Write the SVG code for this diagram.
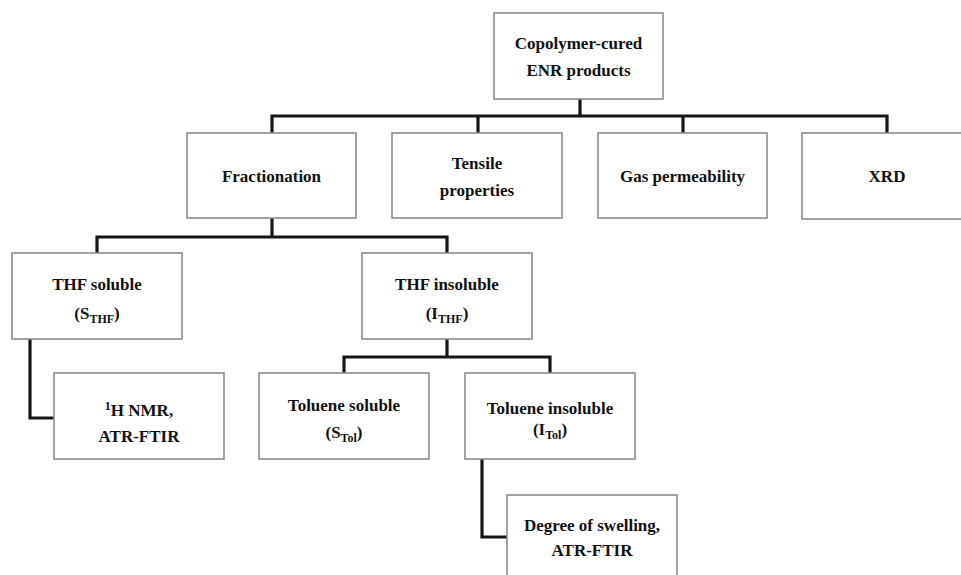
<svg xmlns="http://www.w3.org/2000/svg" width="961" height="575" viewBox="0 0 961 575">
<style>
.box{fill:#fff;stroke:#8c8c8c;stroke-width:1.6}
.t{font-family:"Liberation Serif","Times New Roman",serif;font-weight:bold;font-size:17px;fill:#111;text-anchor:middle}
.sub{font-size:12px}
.c{fill:none;stroke:#161616;stroke-width:3.2;stroke-linejoin:miter;stroke-linecap:square}
</style>
<rect width="961" height="575" fill="#fff"/>
<g id="connectors">
<path class="c" d="M580,99V116M272,116H887M272,116V133M478,116V133M683,116V133M887,116V133"/>
<path class="c" d="M272,218V237M97,237H447M97,237V253M447,237V253"/>
<path class="c" d="M447,339V357M344,357H550M344,357V373M550,357V373"/>
<path class="c" d="M30,339V418H54"/>
<path class="c" d="M482,459V537H507"/>
</g>
<g id="root"><rect class="box" x="494" y="13" width="169" height="86"/>
<text class="t" x="578.5" y="49">Copolymer-cured</text><text class="t" x="578.5" y="76">ENR products</text></g>
<g id="fractionation"><rect class="box" x="187" y="133" width="169" height="85"/>
<text class="t" x="271.5" y="182">Fractionation</text></g>
<g id="tensile"><rect class="box" x="392" y="133" width="170" height="85"/>
<text class="t" x="477" y="169">Tensile</text><text class="t" x="477" y="196">properties</text></g>
<g id="gas"><rect class="box" x="598" y="133" width="169" height="85"/>
<text class="t" x="682.5" y="182">Gas permeability</text></g>
<g id="xrd"><rect class="box" x="802" y="133" width="170" height="86"/>
<text class="t" x="887" y="182">XRD</text></g>
<g id="thf-soluble"><rect class="box" x="12" y="253" width="170" height="86"/>
<text class="t" x="97" y="290">THF soluble</text><text class="t" x="97" y="319">(S<tspan class="sub" dy="4">THF</tspan><tspan dy="-4">)</tspan></text></g>
<g id="thf-insoluble"><rect class="box" x="362" y="253" width="170" height="86"/>
<text class="t" x="447" y="290">THF insoluble</text><text class="t" x="447" y="319">(I<tspan class="sub" dy="4">THF</tspan><tspan dy="-4">)</tspan></text></g>
<g id="nmr"><rect class="box" x="54" y="373" width="170" height="86"/>
<text class="t" x="139" y="416"><tspan class="sub" dy="-6">1</tspan><tspan dy="6">H NMR,</tspan></text><text class="t" x="139" y="442">ATR-FTIR</text></g>
<g id="toluene-soluble"><rect class="box" x="259" y="373" width="170" height="86"/>
<text class="t" x="344" y="411">Toluene soluble</text><text class="t" x="344" y="438">(S<tspan class="sub" dy="4">Tol</tspan><tspan dy="-4">)</tspan></text></g>
<g id="toluene-insoluble"><rect class="box" x="465" y="373" width="170" height="86"/>
<text class="t" x="550" y="414">Toluene insoluble</text><text class="t" x="550" y="435">(I<tspan class="sub" dy="4">Tol</tspan><tspan dy="-4">)</tspan></text></g>
<g id="swelling"><rect class="box" x="507" y="495" width="170" height="90"/>
<text class="t" x="592" y="531">Degree of swelling,</text><text class="t" x="592" y="556">ATR-FTIR</text></g>
</svg>
